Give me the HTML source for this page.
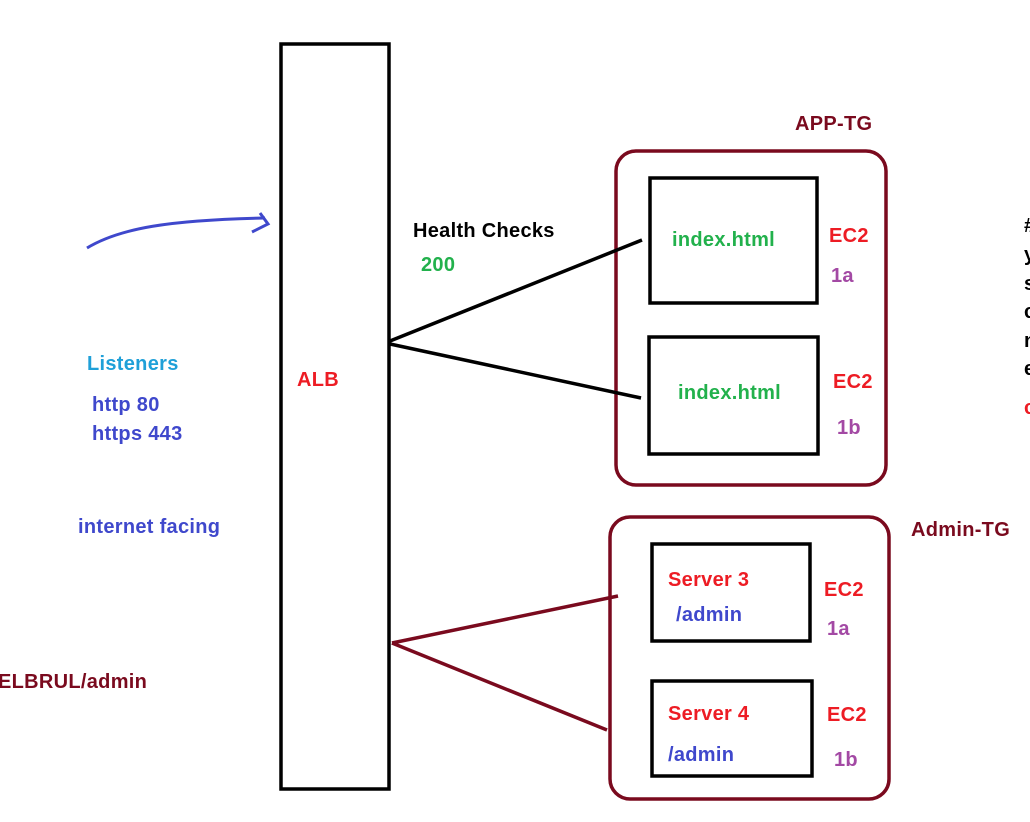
<!DOCTYPE html>
<html><head><meta charset="utf-8"><style>
html,body{margin:0;padding:0;background:#fff;width:1030px;height:822px;overflow:hidden}
text{font-family:"Liberation Sans",sans-serif;font-weight:bold;font-size:20px;letter-spacing:0.3px}
</style></head><body>
<svg width="1030" height="822" viewBox="0 0 1030 822" xmlns="http://www.w3.org/2000/svg">
<rect x="281" y="44" width="108" height="745" fill="none" stroke="#000" stroke-width="3.5"/>
<rect x="616" y="151" width="270" height="334" rx="20" fill="none" stroke="#7a0a1e" stroke-width="3.5"/>
<rect x="650" y="178" width="167" height="125" fill="none" stroke="#000" stroke-width="3.5"/>
<rect x="649" y="337" width="169" height="117" fill="none" stroke="#000" stroke-width="3.5"/>
<rect x="610" y="517" width="279" height="282" rx="20" fill="none" stroke="#7a0a1e" stroke-width="3.5"/>
<rect x="652" y="544" width="158" height="97" fill="none" stroke="#000" stroke-width="3.5"/>
<rect x="652" y="681" width="160" height="95" fill="none" stroke="#000" stroke-width="3.5"/>
<line x1="390" y1="341" x2="642" y2="240" stroke="#000" stroke-width="3.5"/>
<line x1="390" y1="344" x2="641" y2="398" stroke="#000" stroke-width="3.5"/>
<line x1="392" y1="643" x2="618" y2="596" stroke="#7a0a1e" stroke-width="3.5"/>
<line x1="392" y1="643" x2="607" y2="730" stroke="#7a0a1e" stroke-width="3.5"/>
<path d="M87 248 C120 228 170 220 265 218" fill="none" stroke="#3f48cc" stroke-width="3"/>
<path d="M260 213 L268 224 L252 232" fill="none" stroke="#3f48cc" stroke-width="3"/>
<text x="795" y="130" fill="#7a0a1e">APP-TG</text>
<text x="911" y="536" fill="#7a0a1e">Admin-TG</text>
<text x="413" y="237" fill="#000">Health Checks</text>
<text x="421" y="271" fill="#22b14c">200</text>
<text x="87" y="370" fill="#1fa0d8">Listeners</text>
<text x="92" y="411" fill="#3f48cc">http 80</text>
<text x="92" y="440" fill="#3f48cc">https 443</text>
<text x="78" y="533" fill="#3f48cc">internet facing</text>
<text x="297" y="386" fill="#ed1c24">ALB</text>
<text x="-2" y="688" fill="#7a0a1e">ELBRUL/admin</text>
<text x="672" y="246" fill="#22b14c">index.html</text>
<text x="678" y="399" fill="#22b14c">index.html</text>
<text x="829" y="242" fill="#ed1c24">EC2</text>
<text x="833" y="388" fill="#ed1c24">EC2</text>
<text x="824" y="596" fill="#ed1c24">EC2</text>
<text x="827" y="721" fill="#ed1c24">EC2</text>
<text x="831" y="282" fill="#a349a4">1a</text>
<text x="837" y="434" fill="#a349a4">1b</text>
<text x="827" y="635" fill="#a349a4">1a</text>
<text x="834" y="766" fill="#a349a4">1b</text>
<text x="668" y="586" fill="#ed1c24">Server 3</text>
<text x="676" y="621" fill="#3f48cc">/admin</text>
<text x="668" y="720" fill="#ed1c24">Server 4</text>
<text x="668" y="761" fill="#3f48cc">/admin</text>
<text x="1024" y="232" fill="#000">#</text>
<text x="1024" y="261" fill="#000">y</text>
<text x="1024" y="290" fill="#000">s</text>
<text x="1024" y="318" fill="#000">c</text>
<text x="1024" y="347" fill="#000">n</text>
<text x="1024" y="375" fill="#000">e</text>
<text x="1024" y="414" fill="#ed1c24">c</text>
</svg>
</body></html>
